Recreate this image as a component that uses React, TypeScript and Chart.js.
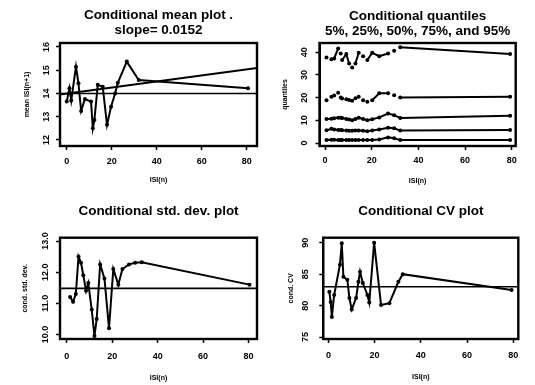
import React, { useEffect, useRef } from "react";
import { Chart, registerables } from "chart.js";

Chart.register(...registerables);

const FONT = "'Liberation Sans', Arial, Helvetica, sans-serif";

// ---------- Data ----------
// Panel 1: conditional mean
const meanX = [0.0, 1.2, 2.0, 4.1, 5.2, 6.4, 8.1, 10.8, 11.6, 12.3, 13.8, 16.0, 17.9, 19.7, 21.5, 22.7, 26.7, 32.0, 80.6];
const meanY = [13.65, 14.22, 13.7, 15.15, 14.44, 13.25, 13.76, 13.65, 12.5, 12.86, 14.37, 14.29, 12.65, 13.43, 14.0, 14.46, 15.37, 14.58, 14.22];
const meanLevel = 14.0;
const meanFitIntercept = 13.99;
const meanFitSlope = 0.0131;

// Panel 2: conditional quantiles
const quantX = [0.6, 2.7, 3.9, 5.6, 6.7, 7.3, 9.1, 10.3, 11.6, 13.0, 14.4, 16.3, 18.1, 20.2, 23.2, 27.0, 29.6, 32.2, 79.3];
const q95 = [37.7, 36.9, 37.3, 41.7, 39.5, 36.6, 39.2, 35.1, 33.3, 35.1, 39.8, 38.3, 36.6, 39.8, 38.3, 39.5, 40.7, 42.2, 39.2];
const q75 = [18.9, 20.4, 21.0, 22.2, 20.1, 19.6, 19.3, 19.0, 18.6, 19.7, 20.4, 18.9, 18.2, 18.9, 21.9, 21.9, 21.1, 20.1, 20.4];
const q50 = [10.6, 10.7, 10.9, 11.1, 11.2, 11.0, 10.6, 10.4, 10.1, 10.6, 11.1, 10.6, 10.1, 10.5, 11.3, 13.0, 12.3, 11.0, 12.0];
const q25 = [5.6, 6.3, 6.0, 5.8, 5.7, 5.6, 5.5, 5.4, 5.4, 5.5, 5.5, 5.4, 5.2, 5.5, 6.0, 6.7, 6.5, 5.5, 5.7];
const q5 = [1.3, 1.5, 1.4, 1.3, 1.3, 1.3, 1.3, 1.3, 1.3, 1.3, 1.3, 1.3, 1.3, 1.3, 1.6, 2.5, 2.1, 1.3, 1.3];

// Panel 3: conditional std. dev.
const sdX = [1.5, 2.8, 4.0, 5.2, 6.3, 7.3, 8.5, 9.5, 11.0, 12.2, 13.2, 14.7, 16.6, 18.6, 20.5, 22.7, 24.5, 27.4, 30.1, 33.0, 80.4];
const sdY = [11.2, 11.05, 11.3, 12.5, 12.3, 11.9, 11.4, 11.65, 10.8, 9.95, 10.5, 12.25, 11.8, 10.2, 12.1, 11.6, 12.1, 12.25, 12.3, 12.32, 11.6];
const sdLevel = 11.48;

// Panel 4: conditional CV
const cvX = [0.4, 1.0, 1.5, 2.5, 5.0, 5.8, 6.5, 8.2, 9.1, 10.1, 12.0, 13.0, 13.7, 14.9, 16.9, 17.7, 19.8, 22.8, 26.4, 30.3, 32.2, 79.3];
const cvY = [82.2, 80.6, 78.2, 81.7, 86.5, 89.9, 84.6, 84.1, 81.2, 79.4, 81.2, 83.8, 85.4, 83.6, 81.7, 80.5, 90.0, 80.1, 80.4, 83.8, 85.0, 82.5];
const cvLevel = 83.0;

// Ticks
const xTicks = [0, 20, 40, 60, 80];
const meanTicks = [12, 13, 14, 15, 16];
const meanTickLabels = ["12", "13", "14", "15", "16"];
const quantTicks = [0, 10, 20, 30, 40];
const quantTickLabels = ["0", "10", "20", "30", "40"];
const sdTicks = [10, 11, 12, 13];
const sdTickLabels = ["10.0", "11.0", "12.0", "13.0"];
const cvTicks = [75, 80, 85, 90];
const cvTickLabels = ["75", "80", "85", "90"];

// ---------- helpers ----------
const pts = (xs: number[], ys: number[]) => xs.map((x, i) => ({ x, y: ys[i] }));

const series = (xs: number[], ys: number[], gap = 0) => ({
  data: pts(xs, ys),
  showLine: true,
  borderColor: "#000",
  borderWidth: 2,
  pointRadius: 2,
  pointBackgroundColor: "#000",
  pointBorderWidth: 0,
  segment:
    gap > 0
      ? {
          borderColor: (c: any) =>
            Math.hypot(c.p1.x - c.p0.x, c.p1.y - c.p0.y) < gap ? "rgba(0,0,0,0)" : "#000",
        }
      : undefined,
});

const hline = (x0: number, x1: number, v: number) => ({
  data: [
    { x: x0, y: v },
    { x: x1, y: v },
  ],
  showLine: true,
  borderColor: "#000",
  borderWidth: 1.6,
  pointRadius: 0,
});

type Spec = {
  left: number;
  top: number;
  w: number;
  h: number;
  L: number;
  R: number;
  B: number;
  titleText: string | string[];
  titleTop: number;
  titleBottom: number;
  xMin: number;
  xMax: number;
  yMin: number;
  yMax: number;
  yTicks: number[];
  yTickLabels: string[];
  yTitle: string;
  yTitleCenter: number;
  yLabelOff: number;
  xTickPad: number;
  xTitlePad: number;
  datasets: any[];
};

const TITLE_LH = 15;

function buildConfig(s: Spec): any {
  const framePlugin = {
    id: "rframe",
    afterDraw(chart: any) {
      const { ctx, chartArea: a } = chart;
      const ys = chart.scales.y;
      ctx.save();
      ctx.strokeStyle = "#000";
      ctx.lineWidth = 2.4;
      ctx.strokeRect(a.left, a.top, a.right - a.left, a.bottom - a.top);
      ctx.fillStyle = "#000";
      ctx.font = `bold 9px ${FONT}`;
      ctx.textAlign = "center";
      ctx.textBaseline = "middle";
      s.yTicks.forEach((v, i) => {
        const py = ys.getPixelForValue(v);
        ctx.save();
        ctx.translate(a.left - s.yLabelOff, py);
        ctx.rotate(-Math.PI / 2);
        ctx.fillText(s.yTickLabels[i], 0, 0);
        ctx.restore();
      });
      ctx.restore();
    },
  };

  return {
    type: "scatter",
    data: { datasets: s.datasets },
    options: {
      animation: false,
      responsive: false,
      events: [],
      layout: { padding: { left: 0, top: 0, bottom: 0, right: s.w - s.R } },
      plugins: {
        legend: { display: false },
        tooltip: { enabled: false },
        title: {
          display: true,
          fullSize: false,
          text: s.titleText,
          color: "#000",
          font: { family: FONT, size: 13.5, weight: "bold", lineHeight: TITLE_LH / 13.5 },
          padding: { top: s.titleTop, bottom: s.titleBottom },
        },
      },
      scales: {
        x: {
          type: "linear",
          min: s.xMin,
          max: s.xMax,
          afterBuildTicks: (sc: any) => {
            sc.ticks = xTicks.map((v) => ({ value: v }));
          },
          afterFit: (sc: any) => {
            sc.height = s.h - s.B;
          },
          ticks: {
            color: "#000",
            padding: s.xTickPad,
            maxRotation: 0,
            font: { family: FONT, size: 9, weight: "bold", lineHeight: 1.2 },
          },
          grid: {
            drawOnChartArea: false,
            drawTicks: true,
            tickLength: 4,
            tickColor: "#000",
            tickWidth: 1.5,
            color: "#000",
          },
          border: { display: true, color: "#000", width: 2 },
          title: {
            display: true,
            text: "ISI(n)",
            color: "#000",
            font: { family: FONT, size: 7, weight: "bold", lineHeight: 1.2 },
            padding: { top: 0, bottom: s.xTitlePad },
          },
        },
        y: {
          type: "linear",
          min: s.yMin,
          max: s.yMax,
          afterBuildTicks: (sc: any) => {
            sc.ticks = s.yTicks.map((v) => ({ value: v }));
          },
          afterFit: (sc: any) => {
            sc.width = s.L;
          },
          ticks: { display: false },
          grid: {
            drawOnChartArea: false,
            drawTicks: true,
            tickLength: 4,
            tickColor: "#000",
            tickWidth: 1.5,
            color: "#000",
          },
          border: { display: true, color: "#000", width: 2 },
          title: {
            display: true,
            text: s.yTitle,
            color: "#000",
            font: { family: FONT, size: 7, weight: "bold", lineHeight: 1.2 },
            padding: { top: s.yTitleCenter - 4.2, bottom: 0 },
          },
        },
      },
    },
    plugins: [framePlugin],
  };
}

const P1X: [number, number] = [-3.0, 84.6];
const P2X: [number, number] = [-2.4, 81.7];
const P3X: [number, number] = [-2.95, 83.7];
const P4X: [number, number] = [-2.2, 82.2];

const specs: Spec[] = [
  {
    left: 0, top: 0, w: 267, h: 192, L: 60, R: 257, B: 146,
    titleText: ["Conditional mean plot .", "slope= 0.0152"],
    titleTop: 8, titleBottom: 5,
    xMin: P1X[0], xMax: P1X[1], yMin: 11.74, yMax: 16.17,
    yTicks: meanTicks, yTickLabels: meanTickLabels,
    yTitle: "mean ISI(n+1)", yTitleCenter: 27, yLabelOff: 13.3,
    xTickPad: 6.4, xTitlePad: 7.8,
    datasets: [
      hline(P1X[0], P1X[1], meanLevel),
      {
        data: [
          { x: P1X[0], y: meanFitIntercept + meanFitSlope * P1X[0] },
          { x: P1X[1], y: meanFitIntercept + meanFitSlope * P1X[1] },
        ],
        showLine: true, borderColor: "#000", borderWidth: 2, pointRadius: 0,
      },
      series(meanX, meanY),
    ],
  },
  {
    left: 267, top: 0, w: 268, h: 192, L: 52.5, R: 248.7, B: 146,
    titleText: ["Conditional quantiles", "5%, 25%, 50%, 75%, and 95%"],
    titleTop: 8.3, titleBottom: 4.7,
    xMin: P2X[0], xMax: P2X[1], yMin: -1.3, yMax: 44.1,
    yTicks: quantTicks, yTickLabels: quantTickLabels,
    yTitle: "quantiles", yTitleCenter: 18, yLabelOff: 15,
    xTickPad: 4.7, xTitlePad: 6.8,
    datasets: [
      series(quantX, q95, 7),
      series(quantX, q75, 7),
      series(quantX, q50),
      series(quantX, q25),
      series(quantX, q5),
    ],
  },
  {
    left: 0, top: 192, w: 267, h: 193, L: 60, R: 257, B: 147,
    titleText: "Conditional std. dev. plot",
    titleTop: 12.2, titleBottom: 18.5,
    xMin: P3X[0], xMax: P3X[1], yMin: 9.856, yMax: 13.106,
    yTicks: sdTicks, yTickLabels: sdTickLabels,
    yTitle: "cond. std. dev.", yTitleCenter: 25, yLabelOff: 14,
    xTickPad: 8.4, xTitlePad: 2.8,
    datasets: [hline(P3X[0], P3X[1], sdLevel), series(sdX, sdY)],
  },
  {
    left: 267, top: 192, w: 268, h: 193, L: 56.3, R: 251.3, B: 147,
    titleText: "Conditional CV plot",
    titleTop: 11.5, titleBottom: 19.2,
    xMin: P4X[0], xMax: P4X[1], yMin: 74.7, yMax: 90.8,
    yTicks: cvTicks, yTickLabels: cvTickLabels,
    yTitle: "cond. CV", yTitleCenter: 24, yLabelOff: 18,
    xTickPad: 7.4, xTitlePad: 4.1,
    datasets: [hline(P4X[0], P4X[1], cvLevel), series(cvX, cvY)],
  },
];

function Panel({ spec }: { spec: Spec }) {
  const ref = useRef<HTMLCanvasElement>(null);
  useEffect(() => {
    if (!ref.current) return;
    const chart = new Chart(ref.current, buildConfig(spec));
    return () => chart.destroy();
  }, [spec]);
  return (
    <canvas
      ref={ref}
      width={spec.w}
      height={spec.h}
      style={{
        position: "absolute",
        left: spec.left,
        top: spec.top,
        width: spec.w,
        height: spec.h,
      }}
    />
  );
}

export default function App() {
  return (
    <div
      style={{
        position: "fixed",
        left: 0,
        top: 0,
        width: 535,
        height: 385,
        background: "#fff",
        overflow: "hidden",
      }}
    >
      {specs.map((s, i) => (
        <Panel key={i} spec={s} />
      ))}
    </div>
  );
}
